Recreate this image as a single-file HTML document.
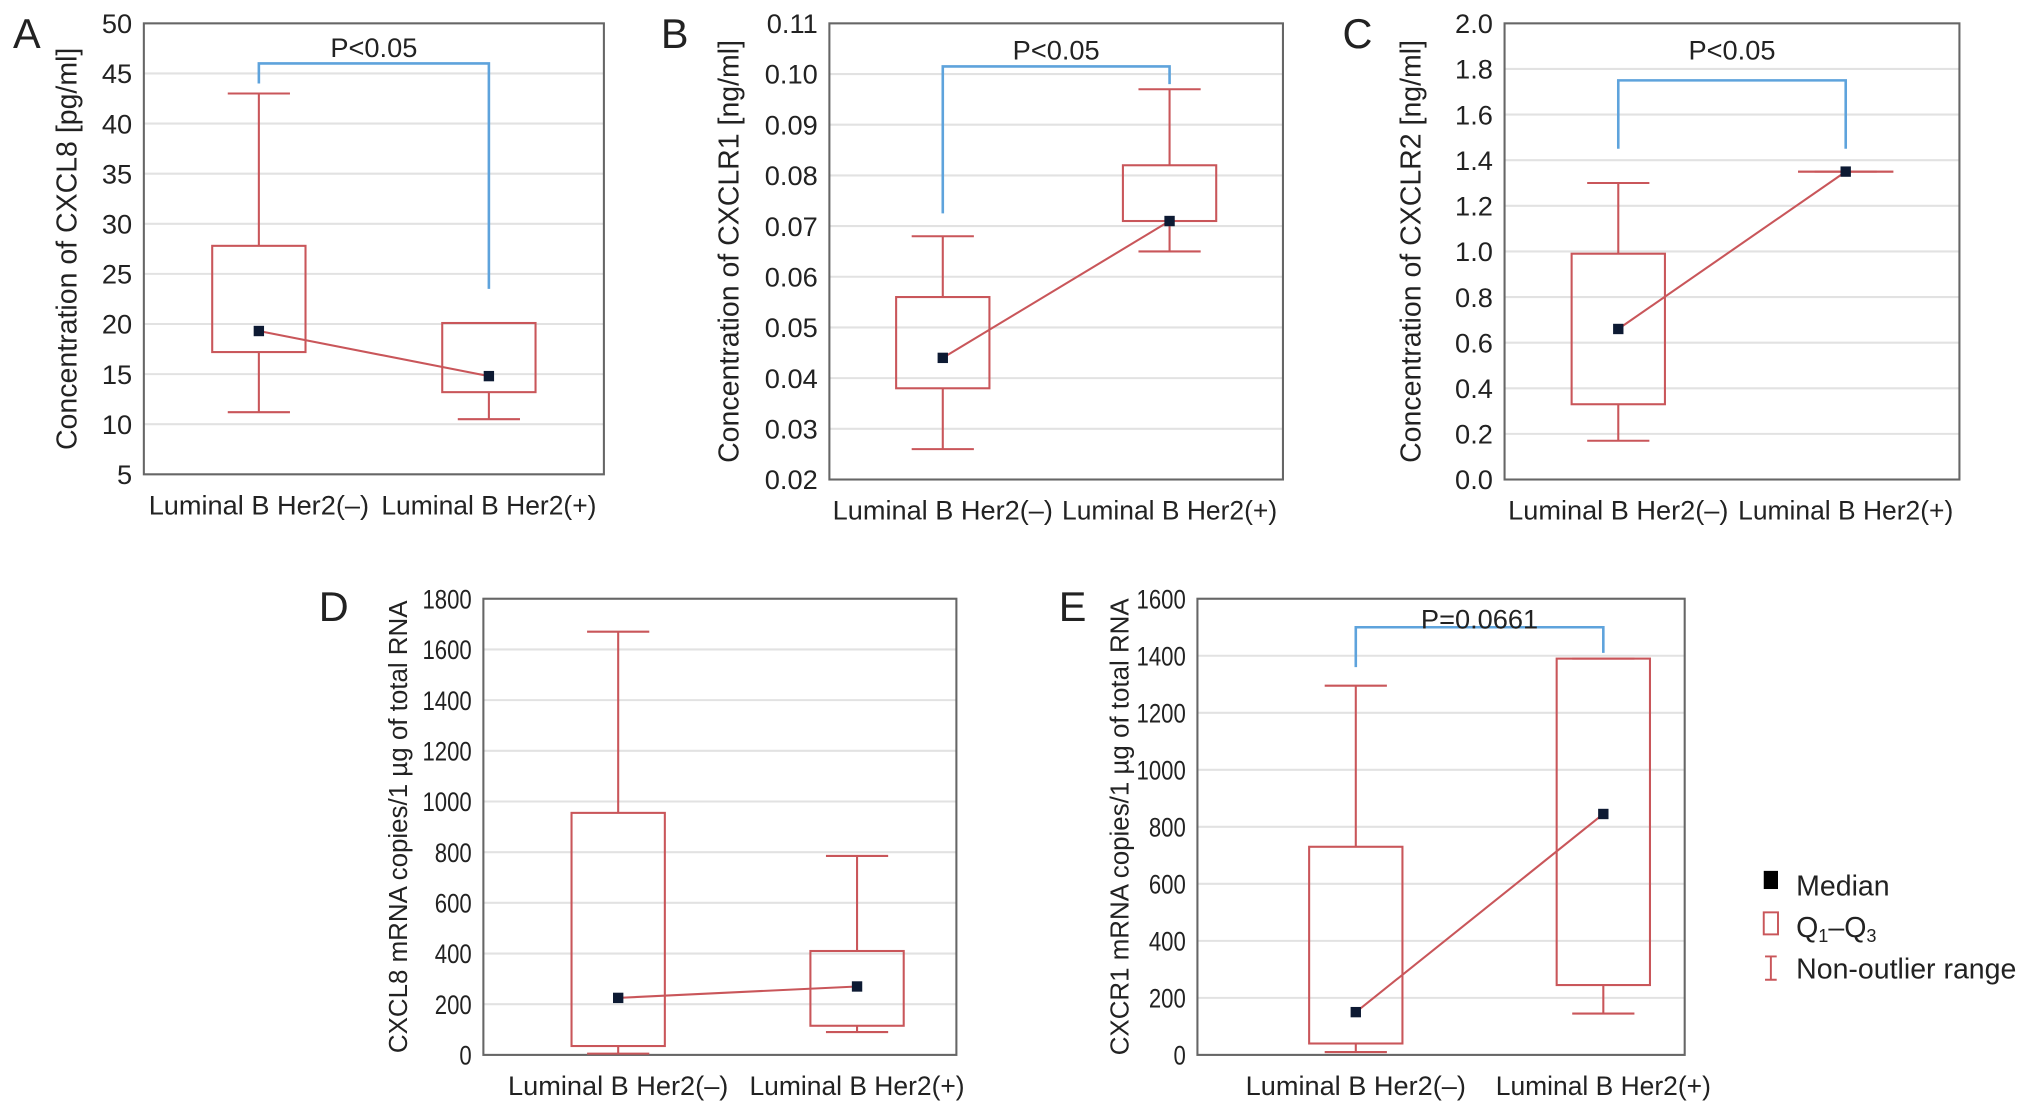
<!DOCTYPE html>
<html><head><meta charset="utf-8"><style>
html,body{margin:0;padding:0;background:#fff}
svg{display:block}
text{font-family:"Liberation Sans",sans-serif;fill:#222}
</style></head><body>
<svg id="fig" width="2032" height="1110" viewBox="0 0 1568 856.5" xmlns="http://www.w3.org/2000/svg"></svg>
<script>
// ---- data ----
const categories = ["Luminal B Her2(\u2013)", "Luminal B Her2(+)"];
const ticksA = [5,10,15,20,25,30,35,40,45,50];
const whiskerLowA = [11.2, 10.5];
const q1A = [17.2, 13.2];
const medianA = [19.3, 14.8];
const q3A = [27.8, 20.1];
const whiskerHighA = [43, 20.1];
const ticksB = [0.02,0.03,0.04,0.05,0.06,0.07,0.08,0.09,0.10,0.11];
const whiskerLowB = [0.026, 0.065];
const q1B = [0.038, 0.071];
const medianB = [0.044, 0.071];
const q3B = [0.056, 0.082];
const whiskerHighB = [0.068, 0.097];
const ticksC = [0,0.2,0.4,0.6,0.8,1.0,1.2,1.4,1.6,1.8,2.0];
const whiskerLowC = [0.17, 1.35];
const q1C = [0.33, 1.35];
const medianC = [0.66, 1.35];
const q3C = [0.99, 1.35];
const whiskerHighC = [1.3, 1.35];
const ticksD = [0,200,400,600,800,1000,1200,1400,1600,1800];
const whiskerLowD = [5, 90];
const q1D = [35, 115];
const medianD = [225, 270];
const q3D = [955, 410];
const whiskerHighD = [1670, 785];
const ticksE = [0,200,400,600,800,1000,1200,1400,1600];
const whiskerLowE = [10, 145];
const q1E = [40, 245];
const medianE = [150, 845];
const q3E = [730, 1390];
const whiskerHighE = [1295, 1390];

const NS = "http://www.w3.org/2000/svg";
const svg = document.getElementById("fig");
const RED = "#c9565a", BLUE = "#5ea3dc";
function mk(tag, attrs, parent, txt){
  const e = document.createElementNS(NS, tag);
  for (const k in attrs) e.setAttribute(k, attrs[k]);
  if (txt !== undefined) e.textContent = txt;
  (parent||svg).appendChild(e);
  return e;
}
function panel(o){
  const g = mk("g", {});
  
  
  const ymin = o.ticks[0], ymax = o.ticks[o.ticks.length-1];
  const y = v => o.y1 - (v - ymin) / (ymax - ymin) * (o.y1 - o.y0);
  const xc = i => o.x0 + (o.x1 - o.x0) * o.cf[i];
  o.ticks.forEach(t => {
    const gl = mk("line", {x1:o.x0, x2:o.x1, y1:y(t), y2:y(t), stroke:"#e2e2e2", "stroke-width":1.6}, g);
    
    
    const s = o.fmt(t);
    const attrs = {x:o.x0-9, y:y(t)+7.5, "text-anchor":"end", "font-size":21};
    if (o.narrow) { attrs.textLength = s.length * 9.5; attrs.lengthAdjust = "spacingAndGlyphs"; }
    const tl = mk("text", attrs, g, s);
    
    
  });
  const fr = mk("rect", {x:o.x0, y:o.y0, width:o.x1-o.x0, height:o.y1-o.y0, fill:"none", stroke:"#666", "stroke-width":1.6}, g);
  
  
  categories.forEach((c, i) => {
    const xl = mk("text", {x:xc(i), y:o.y1+31, "text-anchor":"middle", "font-size":21, textLength:170 - i*4, lengthAdjust:"spacingAndGlyphs"}, g, c);
    
    
  });
  const yt = mk("text", {x:0, y:0, "text-anchor":"middle", "font-size":o.tfs || 22, transform:`translate(${o.titleX},${(o.y0+o.y1)/2}) rotate(-90)`}, g, o.title);
  
  
  const pl = mk("text", {x:o.letterX, y:o.letterY, "font-size":32}, g, o.id);
  
  
  for (let i = 0; i < 2; i++){
    const x = xc(i), bw = 36, cw = 24;
    const wk = mk("path", {d:`M${x},${y(o.q3[i])}V${y(o.wh[i])}M${x-cw},${y(o.wh[i])}H${x+cw}M${x},${y(o.q1[i])}V${y(o.wl[i])}M${x-cw},${y(o.wl[i])}H${x+cw}`, stroke:RED, "stroke-width":1.6, fill:"none"}, g);
    
    
    const bx = mk("rect", {x:x-bw, y:y(o.q3[i]), width:bw*2, height:Math.max(0.1, y(o.q1[i])-y(o.q3[i])), fill:"none", stroke:RED, "stroke-width":1.6}, g);
    
    
  }
  const ml = mk("line", {x1:xc(0), y1:y(o.med[0]), x2:xc(1), y2:y(o.med[1]), stroke:RED, "stroke-width":1.6}, g);
  
  
  for (let i = 0; i < 2; i++){
    const m = mk("rect", {x:xc(i)-4, y:y(o.med[i])-4, width:8, height:8, fill:"#0d1a33"}, g);
    
    
  }
  if (o.br){
    const [l, t, r] = o.br;
    const b = mk("path", {d:`M${xc(0)},${y(l)}V${y(t)}H${xc(1)}V${y(r)}`, stroke:BLUE, "stroke-width":2, fill:"none"}, g);
    
    
    const pt = mk("text", {x:(xc(0)+xc(1))/2, y:o.pY, "text-anchor":"middle", "font-size":21}, g, o.pText);
    
    
  }
}
const f0 = t => String(t), f1 = t => t.toFixed(1), f2 = t => t.toFixed(2);
panel({id:"A", x0:111, x1:466, y0:18, y1:366, cf:[0.25,0.75], ticks:ticksA, fmt:f0, wl:whiskerLowA, q1:q1A, med:medianA, q3:q3A, wh:whiskerHighA,
  title:"Concentration of CXCL8 [pg/ml]", titleX:59, letterX:10, letterY:37, br:[44, 46, 23.5], pText:"P<0.05", pY:44});
panel({id:"B", x0:640, x1:990, y0:18, y1:370, cf:[0.25,0.75], ticks:ticksB, fmt:f2, wl:whiskerLowB, q1:q1B, med:medianB, q3:q3B, wh:whiskerHighB,
  title:"Concentration of CXCLR1 [ng/ml]", titleX:570, letterX:510, letterY:37, br:[0.0725, 0.1015, 0.098], pText:"P<0.05", pY:46});
panel({id:"C", x0:1161, x1:1512, y0:18, y1:370, cf:[0.25,0.75], ticks:ticksC, fmt:f1, wl:whiskerLowC, q1:q1C, med:medianC, q3:q3C, wh:whiskerHighC,
  title:"Concentration of CXCLR2 [ng/ml]", titleX:1096, letterX:1036, letterY:37, br:[1.45, 1.75, 1.45], pText:"P<0.05", pY:46});
panel({id:"D", x0:373, x1:738, y0:462, y1:814, cf:[0.285,0.79], narrow:true, ticks:ticksD, fmt:f0, wl:whiskerLowD, q1:q1D, med:medianD, q3:q3D, wh:whiskerHighD,
  title:"CXCL8 mRNA copies/1 \u00b5g of total RNA", tfs:20, titleX:314, letterX:246, letterY:479});
panel({id:"E", x0:924, x1:1300, y0:462, y1:814, cf:[0.325,0.833], narrow:true, ticks:ticksE, fmt:f0, wl:whiskerLowE, q1:q1E, med:medianE, q3:q3E, wh:whiskerHighE,
  title:"CXCR1 mRNA copies/1 \u00b5g of total RNA", tfs:20, titleX:871, letterX:817, letterY:479, br:[1360, 1500, 1410], pText:"P=0.0661", pY:485});
const lg = mk("g", {});


mk("rect", {x:1361, y:672, width:11, height:14, fill:"#000"}, lg);
mk("text", {x:1386, y:691, "font-size":22}, lg, "Median");
mk("rect", {x:1361, y:704, width:11, height:17, fill:"none", stroke:RED, "stroke-width":1.5}, lg);
const q = mk("text", {x:1386, y:723, "font-size":22}, lg);
q.innerHTML = 'Q<tspan font-size="14" dy="4">1</tspan><tspan dy="-4">\u2013Q</tspan><tspan font-size="14" dy="4">3</tspan>';
mk("path", {d:"M1362,738H1371M1366.5,738V756M1362,756H1371", stroke:RED, "stroke-width":1.5, fill:"none"}, lg);
mk("text", {x:1386, y:755, "font-size":22}, lg, "Non-outlier range");
</script>
</body></html>
